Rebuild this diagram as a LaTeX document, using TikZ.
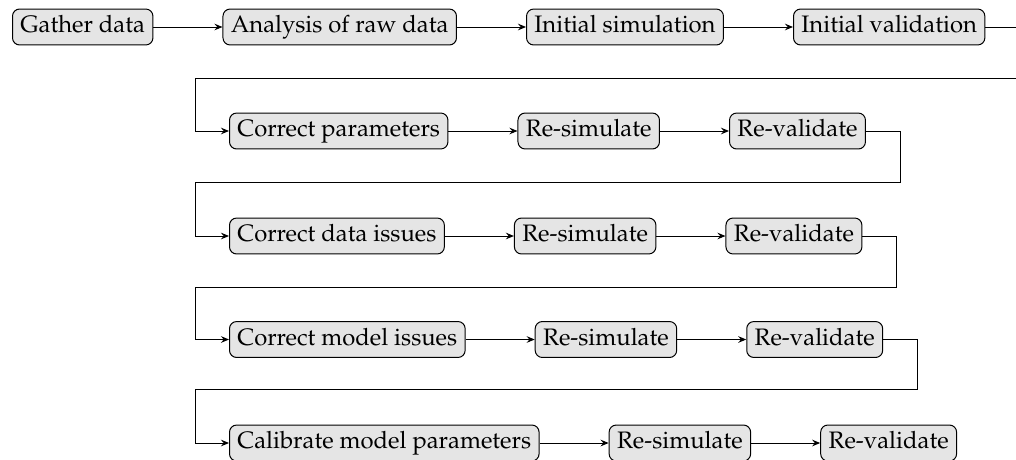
\documentclass[tikz,border=0pt]{standalone}
\usepackage[T1]{fontenc}
\usepackage{mathpazo}
\usetikzlibrary{positioning,arrows.meta}
\tikzset{
  stepbox/.style={draw=black, line width=0.42pt, fill=gray!20, rounded corners=3pt,
    text height=6.9pt, text depth=1.9pt, inner xsep=3.33pt, inner ysep=3.15pt,
    font=\fontsize{10}{12}\selectfont},
  flow/.style={line width=0.42pt, -{Stealth[length=3.4pt,width=2.8pt,inset=1.2pt]}},
}
\begin{document}
\begin{tikzpicture}[x=0.42pt, y=-0.42pt, node distance=29pt]
\useasboundingbox (0,0) rectangle (1016,459);
\clip (0,0) rectangle (1016,459);
% row 1
\node[stepbox, anchor=west] (gd) at (12,27) {Gather data};
\node[stepbox, right=of gd] (ar) {Analysis of raw data};
\node[stepbox, right=of ar] (is) {Initial simulation};
\node[stepbox, right=of is] (iv) {Initial validation};
% row 2
\node[stepbox, anchor=west] (cp) at (229,131) {Correct parameters};
\node[stepbox, right=of cp] (rs2) {Re-simulate};
\node[stepbox, right=of rs2] (rv2) {Re-validate};
% row 3
\node[stepbox, anchor=west] (cd) at (229,236) {Correct data issues};
\node[stepbox, right=of cd] (rs3) {Re-simulate};
\node[stepbox, right=of rs3] (rv3) {Re-validate};
% row 4
\node[stepbox, anchor=west] (cm) at (229,339.5) {Correct model issues};
\node[stepbox, right=of cm] (rs4) {Re-simulate};
\node[stepbox, right=of rs4] (rv4) {Re-validate};
% row 5
\node[stepbox, anchor=west] (cmp) at (229,443) {Calibrate model parameters};
\node[stepbox, right=of cmp] (rs5) {Re-simulate};
\node[stepbox, right=of rs5] (rv5) {Re-validate};
% turn points
\coordinate (t1) at (1040,78);
\coordinate (v1) at (195,78);
\coordinate (t2) at ([xshift=14.3pt]rv2.east);
\coordinate (v2) at (195,182);
\coordinate (t3) at ([xshift=14.3pt]rv3.east);
\coordinate (v3) at (195,287);
\coordinate (t4) at ([xshift=14.3pt]rv4.east);
\coordinate (v4) at (195,389);
% connectors
\draw[flow] (gd) -- (ar);
\draw[flow] (ar) -- (is);
\draw[flow] (is) -- (iv);
\draw[flow] (iv.east) -| (t1) -- (v1) |- (cp.west);
\draw[flow] (cp) -- (rs2);
\draw[flow] (rs2) -- (rv2);
\draw[flow] (rv2.east) -- (t2) |- (v2) |- (cd.west);
\draw[flow] (cd) -- (rs3);
\draw[flow] (rs3) -- (rv3);
\draw[flow] (rv3.east) -- (t3) |- (v3) |- (cm.west);
\draw[flow] (cm) -- (rs4);
\draw[flow] (rs4) -- (rv4);
\draw[flow] (rv4.east) -- (t4) |- (v4) |- (cmp.west);
\draw[flow] (cmp) -- (rs5);
\draw[flow] (rs5) -- (rv5);
\end{tikzpicture}
\end{document}
